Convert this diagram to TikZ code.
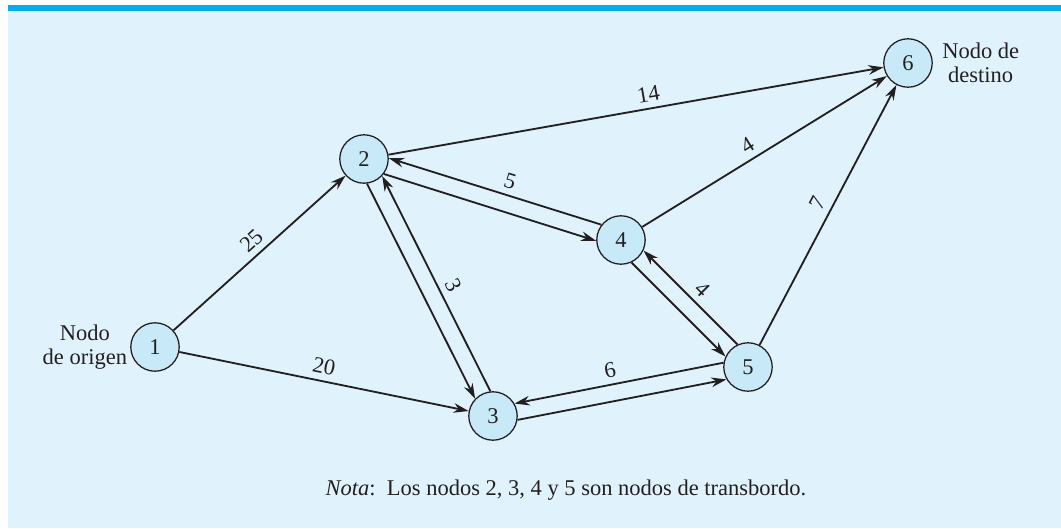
\documentclass[tikz,border=0pt]{standalone}
\usepackage{fontspec}
\setmainfont{Liberation Serif}
\usetikzlibrary{arrows.meta,positioning}

\definecolor{paneblue}{HTML}{E0F2FC}
\definecolor{barblue}{HTML}{00AEEF}
\definecolor{nodeblue}{HTML}{C8E9F8}
\definecolor{inkblack}{HTML}{231F20}

\begin{document}
\begin{tikzpicture}[x=0.025cm, y=0.025cm,
    font=\fontsize{16}{17}\selectfont, text=inkblack,
    vertex/.style={circle, draw=inkblack, line width=0.9pt, fill=nodeblue, minimum size=1.21cm, inner sep=0pt},
    flow/.style={-{Stealth[length=3.8mm, width=2.4mm]}, line width=1.3pt, draw=inkblack},
    cost/.style={sloped, above=1pt},
    side/.style={align=center, inner sep=1.5pt}]

    \useasboundingbox (0, 0) rectangle (1061, 528);
    \fill[paneblue] (8, 0) rectangle (1061, 518);
    \fill[barblue] (8, 517) rectangle (1061, 523);

    \begin{scope}
        \node[vertex] (n1) at (155, 181) {1};
        \node[vertex] (n2) at (364, 369) {2};
        \node[vertex] (n3) at (493, 112) {3};
        \node[vertex] (n4) at (621, 288) {4};
        \node[vertex] (n5) at (748, 161) {5};
        \node[vertex] (n6) at (908, 465) {6};

        \node[side, left=0.5pt of n1] (origen) {Nodo\\de origen};
        \node[side, right=5pt of n6] (destino) {Nodo de\\destino};

        \draw[flow] (n1) -- (n2) node[cost, pos=0.51] {25};
        \draw[flow] (n1) -- (n3) node[cost, pos=0.49] {20};
        \draw[flow] (n2) -- (n6) node[cost, pos=0.53] {14};
        \draw[flow] (n4) -- (n6) node[cost, pos=0.46] {4};
        \draw[flow] (n5) -- (n6) node[cost, pos=0.52] {7};

        \draw[flow] (n2.-83.3) -- (n3.136.7);
        \draw[flow] (n3.96.7) -- (n2.-43.3) node[cost, pos=0.46] {3};

        \draw[flow] (n2.-37.5) -- (n4.182.5);
        \draw[flow] (n4.142.5) -- (n2.2.5) node[cost, pos=0.45] {5};

        \draw[flow] (n4.-65) -- (n5.155);
        \draw[flow] (n5.115) -- (n4.-25) node[cost, pos=0.48] {4};

        \draw[flow] (n3.-9.1) -- (n5.210.9);
        \draw[flow] (n5.170.9) -- (n3.30.9) node[cost, pos=0.53] {6};
    \end{scope}

    \node (nota) at (566, 38) {\textit{Nota}:\ \ Los nodos 2, 3, 4 y 5 son nodos de transbordo.};
\end{tikzpicture}
\end{document}
